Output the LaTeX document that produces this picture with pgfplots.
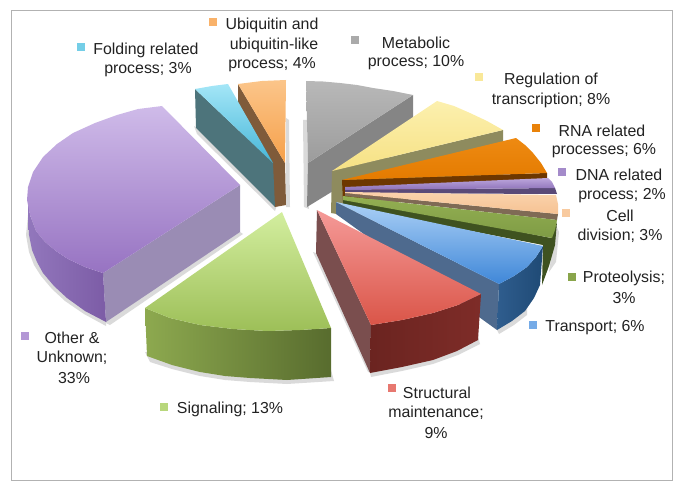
\documentclass[border=0pt]{standalone}
\usepackage{pgfplots}
\pgfplotsset{compat=1.18}
\usepackage{fontspec}
\setmainfont{Liberation Sans}
\definecolor{txt}{HTML}{222222}
\definecolor{shd}{HTML}{DADADA}
\definecolor{mA}{HTML}{B8B8B8}\definecolor{mB}{HTML}{9C9C9C}\definecolor{mS}{HTML}{858585}
\definecolor{uA}{HTML}{FBC58A}\definecolor{uB}{HTML}{F6A04A}\definecolor{uS}{HTML}{7F5B3A}
\definecolor{fA}{HTML}{A4E6F7}\definecolor{fB}{HTML}{45B6D8}\definecolor{fS}{HTML}{4D747B}
\definecolor{yA}{HTML}{FCF0AE}\definecolor{yB}{HTML}{F6E184}\definecolor{yS}{HTML}{8E8B5E}
\definecolor{oA}{HTML}{EE8A12}\definecolor{oB}{HTML}{E47B00}\definecolor{oS}{HTML}{6D3700}
\definecolor{dA}{HTML}{BCA6DC}\definecolor{dB}{HTML}{8C70B8}\definecolor{dS}{HTML}{5A4A78}
\definecolor{cA}{HTML}{FAD3AC}\definecolor{cB}{HTML}{F6C293}\definecolor{cS}{HTML}{7F6A55}
\definecolor{pA}{HTML}{93AF52}\definecolor{pB}{HTML}{7F9C45}\definecolor{pS}{HTML}{3F5220}
\definecolor{tA}{HTML}{ABD0F6}\definecolor{tB}{HTML}{3F87D8}\definecolor{tS}{HTML}{4E6A8E}\definecolor{tL}{HTML}{2F5D8E}\definecolor{tR}{HTML}{1F4A75}
\definecolor{rA}{HTML}{F59A98}\definecolor{rB}{HTML}{DA5548}\definecolor{rS}{HTML}{7A4E4E}\definecolor{rL}{HTML}{6B2420}\definecolor{rR}{HTML}{7E2C28}
\definecolor{gA}{HTML}{D3EE9F}\definecolor{gB}{HTML}{9DBF58}\definecolor{gL}{HTML}{8DA94F}\definecolor{gR}{HTML}{586C2E}
\definecolor{vA}{HTML}{CFBBE9}\definecolor{vB}{HTML}{9773C2}\definecolor{vS}{HTML}{9A8CB4}\definecolor{vL}{HTML}{9277BC}\definecolor{vR}{HTML}{7C5CA6}
\newcommand{\lab}[3]{\node[text=txt,font=\fontsize{15.9bp}{18bp}\selectfont,inner sep=0pt,anchor=center] at (axis cs:#1,#2) {#3};}
\newcommand{\sq}[4]{\addplot[only marks,color=#3!50!#4,mark=square*,mark size=3.5bp,mark options={draw=#3!50!#4,fill=#3!50!#4}] coordinates {(#1,#2)};}
\newcommand{\vface}[3]{\addplot[draw=none,top color=#1,bottom color=#2] coordinates {#3} --cycle;}
\newcommand{\hface}[3]{\addplot[draw=none,left color=#1,right color=#2] coordinates {#3} --cycle;}
\newcommand{\pflat}[2]{\addplot[draw=none,fill=#1] coordinates {#2} --cycle;}
\begin{document}
\begin{tikzpicture}
\path[use as bounding box] (0,0) rectangle (685bp,492bp);
\begin{axis}[at={(0,0)},anchor=south west,scale only axis,width=685bp,height=492bp,
  xmin=0,xmax=685,ymin=0,ymax=492,y dir=reverse,hide axis,clip=false]
% frame
\addplot[draw=black!30,line width=1bp] coordinates {(11,11)(672,11)(672,480)(11,480)} --cycle;
% shadows
\pflat{shd}{(303,120)(307,120)(309,209)(304,207)}
\pflat{shd}{(286,118)(289,120)(290,207)(286,207)}
\pflat{shd}{(194,126)(197,134)(275,211)(277,205)}
\pflat{shd}{(240,232)(243,234)(110,325)(100,320)}
\pflat{shd}{(28,215)(26,235)(29,252)(34,265)(41,276)(52,289)(65,301)(84,314)(106,326)(106,318)}
\pflat{shd}{(145,352)(150,362)(172,369)(200,376)(225,380)(250,382)(287,384)(334,381)(331,370)}
\pflat{shd}{(370,373)(371,377)(402,371)(433,364)(458,355)(480,344)(478,336)}
\pflat{shd}{(497,330)(499,334)(514,325)(527,315)(527,305)}
\pflat{shd}{(556,225)(559,232)(556,262)(549,272)}
\pflat{shd}{(316,253)(313,252)(368,372)(372,372)}
% metabolic
\pflat{mS}{(308,163)(413,95)(413,142)(307,207)}
\vface{mA}{mB}{(306,81)(323,81.5)(340,83)(357,85)(373,88)(393,91)(413,95)(308,163)}
% ubiquitin
\pflat{uS}{(238,84)(285,163)(286,205)(275,207)(238,125)}
\vface{uA}{uB}{(238,84)(262,81)(286,80)(285,163)}
% folding
\pflat{fS}{(195,89)(273,163)(275,207)(196,128)}
\vface{fA}{fB}{(195,89)(212,86)(228,84)(273,163)}
% regulation
\pflat{yS}{(332,171)(503,130)(503,176)(343,215)(331,213)}
\vface{yA}{yB}{(332,171)(437,101)(454,106)(470,113)(487,121)(503,130)}
% RNA
\pflat{oS}{(342,180)(547,173)(547,179)(343,202)}
\vface{oA}{oB}{(342,180)(516,138)(525,145)(533,153)(541,163)(547,173)}
% DNA
\pflat{dS}{(345,190)(555,188)(557,194)(345,193)}
\vface{dA}{dB}{(345,187)(548,178)(552,182)(555,188)(345,190)}
% cell
\pflat{cS}{(345,193)(558,214)(557,220)(345,196)}
\vface{cA}{cB}{(345,192)(556,195)(558,204)(558,214)(345,193)}
% proteolysis
\pflat{pS}{(343,196)(551,238)(557,222)(555,245)(549,266)(542,285)(543,245)(343,206)}
\vface{pA}{pB}{(343,196)(557,220)(555,230)(552,238)(343,200)}
% transport
\pflat{tS}{(336,202)(499,284)(497,330)(336,214)}
\hface{tL}{tR}{(499,284)(514,276)(527,267)(536,257)(543,246)(540,285)(534,298)(525,311)(512,321)(497,330)}
\vface{tA}{tB}{(336,202)(543,246)(536,257)(527,267)(514,276)(499,284)}
% structural
\pflat{rS}{(317,210)(371,325)(370,373)(316,253)}
\hface{rL}{rR}{(371,325)(402,320)(433,313)(458,305)(481,294)(478,340)(457,351)(433,360)(402,367)(370,373)}
\vface{rA}{rB}{(317,210)(481,294)(458,305)(433,313)(402,320)(371,325)}
% signaling
\hface{gL}{gR}{(145,308)(170,318)(200,325)(233,329)(267,331)(300,330)(331,328)(331,377)(287,380)(250,378)(225,376)(200,372)(172,365)(147,356)}
\vface{gA}{gB}{(282,212)(331,328)(300,330)(267,331)(233,329)(200,325)(170,318)(145,308)}
% other
\pflat{vS}{(103,273)(240,185)(240,232)(106,322)}
\hface{vL}{vR}{(28,200)(30,215)(36,231)(45,242)(56,251)(68,259)(85,267)(103,273)(106,322)(85,311)(67,298)(54,286)(43,273)(37,262)(32,250)(29,235)(28,215)}
\vface{vA}{vB}{(240,185)(162,106)(138,109)(117,115)(95,123)(73,133)(57,144)(43,157)(33,172)(28,187)(27,200)(30,215)(36,231)(45,242)(56,251)(68,259)(85,267)(103,273)}
% legend squares
\sq{81}{47}{fA}{fB}
\sq{213}{22}{uA}{uB}
\sq{355}{40}{mA}{mB}
\sq{479}{77}{yA}{yB}
\sq{536}{128}{oA}{oB}
\sq{562}{172}{dA}{dB}
\sq{566}{213}{cA}{cB}
\sq{572}{277}{pA}{pB}
\sq{533}{325}{tA}{tB}
\sq{392}{388}{rA}{rB}
\sq{164}{407}{gA}{gB}
\sq{25}{336}{vA}{vB}
% labels
\lab{146}{50}{Folding related}
\lab{148}{70}{process; 3\%}
\lab{272}{25}{Ubiquitin and}
\lab{274}{45}{ubiquitin-like}
\lab{272}{65}{process; 4\%}
\lab{416}{43}{Metabolic}
\lab{416}{63}{process; 10\%}
\lab{551}{80}{Regulation of}
\lab{551}{100}{transcription; 8\%}
\lab{602}{131}{RNA related}
\lab{604}{151}{processes; 6\%}
\lab{619}{175}{DNA related}
\lab{622}{196}{process; 2\%}
\lab{620}{216}{Cell}
\lab{620}{236}{division; 3\%}
\lab{624}{278}{Proteolysis;}
\lab{624}{298}{3\%}
\lab{595}{328}{Transport; 6\%}
\lab{437}{393}{Structural}
\lab{436}{413}{maintenance;}
\lab{436}{433}{9\%}
\lab{230}{409}{Signaling; 13\%}
\lab{72}{338}{Other \&}
\lab{72}{358}{Unknown;}
\lab{74}{378}{33\%}
\end{axis}
\end{tikzpicture}
\end{document}
